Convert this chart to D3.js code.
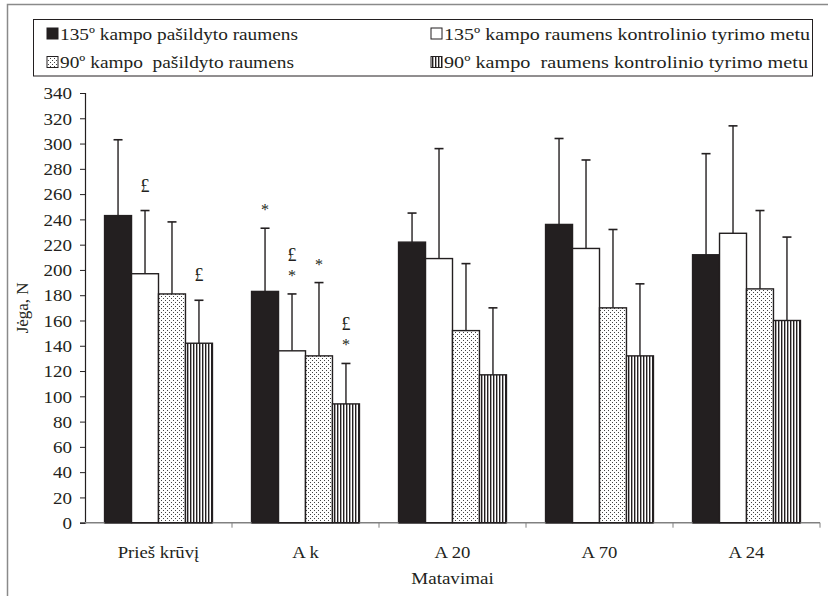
<!DOCTYPE html>
<html>
<head>
<meta charset="utf-8">
<script src="https://cdn.jsdelivr.net/npm/d3@7/dist/d3.min.js"></script>
<style>
  html, body { margin: 0; padding: 0; background: #fff; }
  svg { display: block; }
</style>
</head>
<body>
<svg id="chart" width="828" height="596"></svg>
<script>
// Measurement points
const categories = ["Prieš krūvį", "A k", "A 20", "A 70", "A 24"];

// Series names (legend order)
const seriesNames = [
  "135º kampo pašildyto raumens",
  "135º kampo raumens kontrolinio tyrimo metu",
  "90º kampo  pašildyto raumens",
  "90º kampo  raumens kontrolinio tyrimo metu"
];

// Mean force, N
const heated135  = [243, 183, 222, 236, 212];
const control135 = [197, 136, 209, 217, 229];
const heated90   = [181, 132, 152, 170, 185];
const control90  = [142,  94, 117, 132, 160];

// Mean + SD (top of the error bar), N
const heated135Top  = [303, 233, 245, 304, 292];
const control135Top = [247, 181, 296, 287, 314];
const heated90Top   = [238, 190, 205, 232, 247];
const control90Top  = [176, 126, 170, 189, 226];

// Significance markers above the error bars (top line first)
const heated135Marks  = ["", "*", "", "", ""];
const control135Marks = ["£", "£\n*", "", "", ""];
const heated90Marks   = ["", "*", "", "", ""];
const control90Marks  = ["£", "£\n*", "", "", ""];

const yTicks = d3.range(0, 341, 20);

const seriesValues = [heated135, control135, heated90, control90];
const seriesTops = [heated135Top, control135Top, heated90Top, control90Top];
const seriesMarks = [heated135Marks, control135Marks, heated90Marks, control90Marks];
const fills = ["#231f20", "#fff", "url(#dots)", "url(#stripes)"];

const FONT = "'Liberation Serif', 'Times New Roman', serif";
const ink = "#231f20";

const svg = d3.select("#chart").attr("font-family", FONT);
const label = (sel) => sel.attr("font-family", FONT).style("font-family", FONT).attr("fill", ink);
// widen set type slightly (the face is set a little wide)
const widen = (k) => (sel) => sel.each(function () {
  const w = this.getComputedTextLength();
  d3.select(this).attr("textLength", w * k).attr("lengthAdjust", "spacingAndGlyphs");
});

// fill patterns
const defs = svg.append("defs");
const dots = defs.append("pattern").attr("id", "dots")
  .attr("patternUnits", "userSpaceOnUse").attr("width", 4).attr("height", 4);
dots.append("rect").attr("width", 4).attr("height", 4).attr("fill", "#fff");
dots.append("rect").attr("x", 0).attr("y", 0).attr("width", 1).attr("height", 1).attr("fill", "#444");
dots.append("rect").attr("x", 2).attr("y", 2).attr("width", 1).attr("height", 1).attr("fill", "#444");

const stripes = defs.append("pattern").attr("id", "stripes")
  .attr("patternUnits", "userSpaceOnUse").attr("width", 3).attr("height", 4);
stripes.append("rect").attr("width", 3).attr("height", 4).attr("fill", "#fff");
stripes.append("rect").attr("x", 0).attr("y", 0).attr("width", 1.4).attr("height", 4).attr("fill", ink);

// outer frame
svg.append("path")
  .attr("d", "M7.5,596 V4.5 H828")
  .attr("fill", "none").attr("stroke", "#8a8a8a").attr("stroke-width", 1.5);

// legend
const legend = svg.append("g");
legend.append("rect")
  .attr("x", 33.5).attr("y", 19.5).attr("width", 779).attr("height", 56.5)
  .attr("fill", "#fff").attr("stroke", ink).attr("stroke-width", 1);
const legendPos = [[47, 33.5], [431, 33.5], [47, 62], [431, 62]];
const legendWidth = [238, 366, 234, 364];
seriesNames.forEach((name, i) => {
  const [lx, ly] = legendPos[i];
  legend.append("rect")
    .attr("x", lx).attr("y", ly - 5.5).attr("width", 11).attr("height", 11)
    .attr("fill", fills[i]).attr("stroke", ink).attr("stroke-width", 1);
  legend.append("text")
    .attr("x", lx + 13).attr("y", ly + 6)
    .attr("font-size", 17)
    .attr("xml:space", "preserve")
    .call(label)
    .text(name)
    .attr("textLength", legendWidth[i]).attr("lengthAdjust", "spacingAndGlyphs");
});

// scales
const plot = { left: 85, right: 820, top: 93, bottom: 522.7 };
const x = d3.scaleBand().domain(categories).range([plot.left, plot.right]);
const inner = d3.scaleBand().domain(d3.range(4))
  .range([x.bandwidth() * 0.133, x.bandwidth() * 0.867]);
const y = d3.scaleLinear().domain([0, 340]).range([plot.bottom, plot.top]);

// y axis
const yAxis = svg.append("g")
  .attr("transform", `translate(${plot.left},0)`)
  .call(d3.axisLeft(y).tickValues(yTicks).tickSize(5).tickPadding(8).tickFormat(d3.format("d")));
yAxis.attr("font-family", FONT);
yAxis.select(".domain").attr("stroke", ink).attr("stroke-width", 1.2);
yAxis.selectAll(".tick line").attr("stroke", ink).attr("stroke-width", 1);
yAxis.selectAll(".tick text").attr("font-size", 17).attr("dy", "0.34em").call(label).call(widen(1.12));

// bars
categories.forEach((cat, ci) => {
  const g = svg.append("g").attr("transform", `translate(${x(cat)},0)`);
  seriesValues.forEach((vals, si) => {
    const bx = inner(si), bw = inner.bandwidth();
    const cx = bx + bw / 2;
    const top = seriesTops[si][ci];
    // error bar
    g.append("line")
      .attr("x1", cx).attr("x2", cx)
      .attr("y1", y(vals[ci])).attr("y2", y(top))
      .attr("stroke", ink).attr("stroke-width", 1.4);
    g.append("line")
      .attr("x1", cx - 4.5).attr("x2", cx + 4.5)
      .attr("y1", y(top)).attr("y2", y(top))
      .attr("stroke", ink).attr("stroke-width", 1.6);
    // bar
    g.append("rect")
      .attr("x", bx).attr("width", bw)
      .attr("y", y(vals[ci])).attr("height", y(0) - y(vals[ci]))
      .attr("fill", fills[si]).attr("stroke", ink).attr("stroke-width", 1.4);
    // markers, stacked upward from the cap
    const mark = seriesMarks[si][ci];
    if (mark) {
      const lines = mark.split("\n").reverse();
      let base = y(top);
      lines.forEach((ln, k) => {
        const isStar = ln === "*";
        const by = isStar ? base - 13 : base - (k === 0 ? 19 : 20);
        g.append("text")
          .attr("x", cx).attr("text-anchor", "middle")
          .attr("y", by)
          .attr("font-size", isStar ? 16 : 18)
          .call(label)
          .text(ln);
        base = by;
      });
    }
  });
});

// x axis
const xAxisG = svg.append("g").attr("transform", `translate(0,${plot.bottom})`);
xAxisG.append("line")
  .attr("x1", plot.left).attr("x2", plot.right)
  .attr("stroke", "#808080").attr("stroke-width", 1.5);
const boundaries = categories.map(c => x(c) + x.bandwidth());
xAxisG.selectAll("line.tk").data(boundaries).join("line").attr("class", "tk")
  .attr("x1", d => d).attr("x2", d => d).attr("y1", 0).attr("y2", 5)
  .attr("stroke", "#808080").attr("stroke-width", 1);
xAxisG.selectAll("line.bb").data(categories).join("line").attr("class", "bb")
  .attr("x1", d => x(d) + inner(0)).attr("x2", d => x(d) + inner(3) + inner.bandwidth())
  .attr("stroke", ink).attr("stroke-width", 1.5);
xAxisG.selectAll("text").data(categories).join("text")
  .attr("x", d => x(d) + x.bandwidth() / 2).attr("y", 35)
  .attr("text-anchor", "middle").attr("font-size", 17)
  .call(label)
  .text(d => d)
  .call(widen(1.1));

// axis titles
svg.append("text")
  .attr("x", (plot.left + plot.right) / 2).attr("y", 584)
  .attr("text-anchor", "middle").attr("font-size", 17)
  .call(label)
  .text("Matavimai")
  .call(widen(1.12));
svg.append("text")
  .attr("transform", `translate(28,${(plot.top + plot.bottom) / 2}) rotate(-90)`)
  .attr("text-anchor", "middle").attr("font-size", 17)
  .call(label)
  .text("Jėga, N");
</script>
</body>
</html>
